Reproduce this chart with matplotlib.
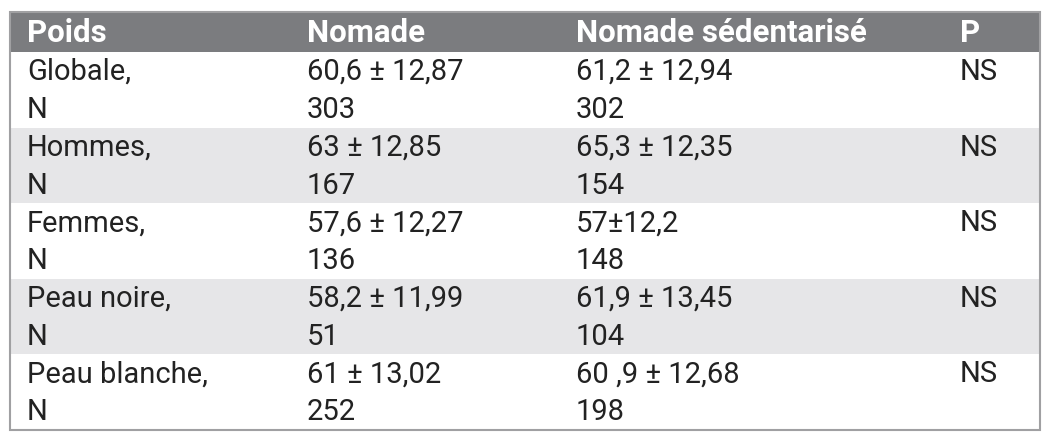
import matplotlib.pyplot as plt
from matplotlib.patches import Rectangle

# table content
headers = ["Poids", "Nomade", "Nomade sédentarisé", "P"]
groups = ["Globale,", "Hommes,", "Femmes,", "Peau noire,", "Peau blanche,"]
nomade_mean = ["60,6 ± 12,87", "63 ± 12,85", "57,6 ± 12,27", "58,2 ± 11,99", "61 ± 13,02"]
nomade_n = ["303", "167", "136", "51", "252"]
sed_mean = ["61,2 ± 12,94", "65,3 ± 12,35", "57±12,2", "61,9 ± 13,45", "60 ,9 ± 12,68"]
sed_n = ["302", "154", "148", "104", "198"]
p_values = ["NS", "NS", "NS", "NS", "NS"]

W, H = 1048, 443
fig = plt.figure(figsize=(W / 100, H / 100), dpi=100)
ax = fig.add_axes([0, 0, 1, 1])
ax.set_xlim(0, W)
ax.set_ylim(H, 0)
ax.axis("off")

left, right = 10, 1040
top, head_bot = 12, 52
row_h = 75.6
col_x = [27, 307, 576, 960]
font = "Roboto"

ax.add_patch(Rectangle((left, top), right - left, head_bot - top, color="#7b7c7f", lw=0))
for i in range(len(groups)):
    y0 = head_bot + i * row_h
    if i % 2 == 1:
        ax.add_patch(Rectangle((left, y0), right - left, row_h, color="#e6e6e8", lw=0))
    cells = [(groups[i], "N"), (nomade_mean[i], nomade_n[i]), (sed_mean[i], sed_n[i]), (p_values[i], "")]
    for x, (a, b) in zip(col_x, cells):
        ax.text(x, y0 + 20, a, fontsize=21, family=font, weight="normal",
                color="#222222", va="center", ha="left")
        if b:
            ax.text(x, y0 + 58, b, fontsize=21, family=font, weight="normal",
                    color="#222222", va="center", ha="left")

for x, h in zip(col_x, headers):
    ax.text(x, (top + head_bot) / 2 + 1, h, fontsize=22.5, family=font, weight="bold",
            color="white", va="center", ha="left")

bottom = head_bot + len(groups) * row_h
ax.add_patch(Rectangle((left, top), right - left, bottom - top, fill=False,
                       ec="#a0a0a2", lw=1.5))

fig.savefig("out.png", dpi=100)
